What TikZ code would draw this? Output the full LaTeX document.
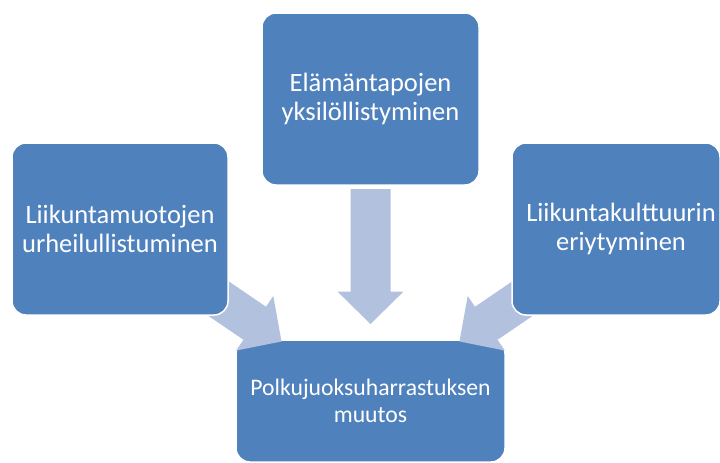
\documentclass[tikz,border=0pt]{standalone}
\usepackage{fontspec}
\setmainfont{Carlito}
\usetikzlibrary{calc}
\definecolor{boxblue}{HTML}{4F81BD}
\definecolor{arrowblue}{HTML}{B2C1DD}
\newcommand\mkblockarrow[2]{%
  \coordinate (#1-h) at ($(#2)!32.4pt!(#1)$);
  \fill[arrowblue]
    ($(#1)!20pt!90:(#2)$) -- ($(#1-h)!20pt!90:(#2)$) -- ($(#1-h)!33pt!90:(#2)$)
    -- (#2)
    -- ($(#1-h)!33pt!-90:(#2)$) -- ($(#1-h)!20pt!-90:(#2)$) -- ($(#1)!20pt!-90:(#2)$) -- cycle;
}
\begin{document}
\begin{tikzpicture}[x=1pt,y=-1pt,
  box/.style={draw=white, line width=1.5pt, fill=boxblue, rounded corners=14pt,
    text=white, align=center, font=\fontsize{26.5}{29.5}\selectfont, inner sep=0pt},
  goalbox/.style={box, font=\fontsize{23.7}{27}\selectfont}]
\useasboundingbox (0,0) rectangle (720,463);
% goal box (below the arrows)
\node[goalbox, minimum width=269pt, minimum height=122pt] (goal) at (370.5,401) {Polkujuoksuharrastuksen\\muutos};
% arrow ends
\coordinate (ltail) at (196.8,283.8);
\coordinate (ltip) at (281.5,341.5);
\coordinate (rtail) at (544.2,283.8);
\coordinate (rtip) at (459.5,341.5);
\coordinate (ttail) at (370.5,189);
\coordinate (ttip) at (370.5,324);
\mkblockarrow{ltail}{ltip}
\mkblockarrow{rtail}{rtip}
\mkblockarrow{ttail}{ttip}
% source boxes
\node[box, minimum width=217pt, minimum height=172pt] (top) at (370.5,99) {Elämäntapojen\\yksilöllistyminen};
\node[box, minimum width=216pt, minimum height=172pt] (left) at (120,229) {Liikuntamuotojen\\urheilullistuminen};
\node[box, minimum width=208pt, minimum height=172pt] (right) at (616,229) {\hspace*{10pt}Liikuntakulttuurin\\\hspace*{10pt}eriytyminen};
\end{tikzpicture}
\end{document}
